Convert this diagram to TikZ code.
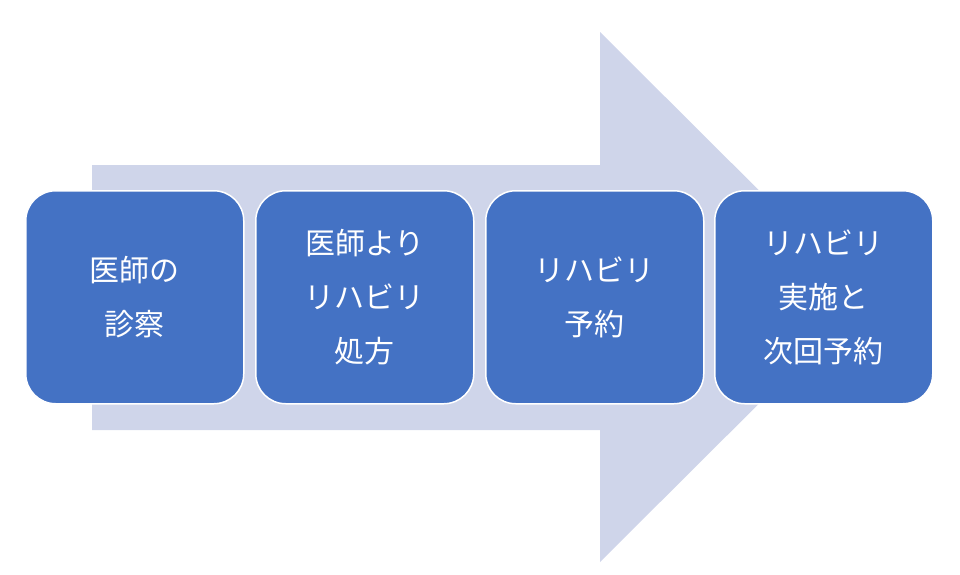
\documentclass[tikz,border=0pt]{standalone}
\usepackage{fontspec}
\newfontfamily\cjk{Noto Sans CJK JP}
\definecolor{arrowc}{HTML}{CFD5EA}
\definecolor{boxc}{HTML}{4472C4}
\begin{document}
\begin{tikzpicture}[x=1pt,y=-1pt,
  stepbox/.style={draw=white,line width=1.5pt,fill=boxc,rounded corners=30pt,
    minimum width=218pt,minimum height=213pt,anchor=north west,text=white,
    align=center,font=\cjk\fontsize{30pt}{54pt}\selectfont}]
\useasboundingbox (0,0) rectangle (960,574);
\fill[arrowc] (92,165) -- (600,165) -- (600,32) -- (866,297) -- (600,562) -- (600,430) -- (92,430) -- cycle;
\node[stepbox] (a) at (25,190) {医師の\\診察};
\node[stepbox] (b) at (255,190) {医師より\\リハビリ\\処方};
\node[stepbox] (c) at (485,190) {リハビリ\\予約};
\node[stepbox] (d) at (714,190) {リハビリ\\実施と\\次回予約};
\end{tikzpicture}
\end{document}
